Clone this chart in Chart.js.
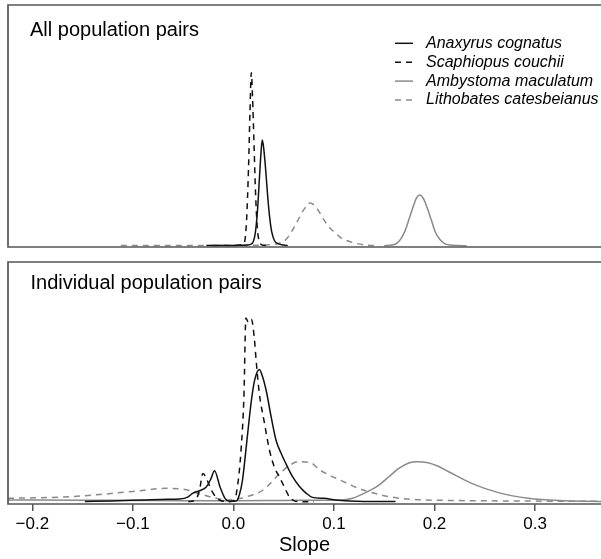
<!DOCTYPE html>
<html><head><meta charset="utf-8">
<script src="https://cdn.jsdelivr.net/npm/chart.js@4.4.1/dist/chart.umd.min.js"></script>
<style>
html,body{margin:0;padding:0;background:#fff;}
#wrap{position:relative;width:601px;height:559px;overflow:hidden;}
canvas{position:absolute;left:0;}
#c1{top:0;}
#c2{top:250px;}
</style></head><body>
<div id="wrap"><canvas id="c1" width="601" height="250"></canvas><canvas id="c2" width="601" height="309"></canvas></div>
<script>
// ---------- data ----------
const speciesNames = ['Anaxyrus cognatus', 'Scaphiopus couchii', 'Ambystoma maculatum', 'Lithobates catesbeianus'];
const panelTitles = ['All population pairs', 'Individual population pairs'];
const axisTitle = 'Slope';
const tickValues = [-0.2, -0.1, 0.0, 0.1, 0.2, 0.3];
const xMin = -0.2242, xMax = 0.3656;

// Top panel: "All population pairs"
const topAnaxX = [-0.027, -0.010, 0.005, 0.013, 0.017, 0.020, 0.022, 0.024, 0.026, 0.0275, 0.0287, 0.030, 0.032, 0.034, 0.036, 0.038, 0.041, 0.045, 0.050, 0.054];
const topAnaxY = [0.1, 0.1, 0.2, 0.3, 0.6, 2, 6, 15, 29, 39, 43.9, 41, 32, 21, 12, 6, 2, 0.8, 0.3, 0.1];
const topScaphX = [-0.02, 0.000, 0.008, 0.011, 0.013, 0.015, 0.0165, 0.0178, 0.019, 0.0205, 0.022, 0.0235, 0.025, 0.027, 0.030, 0.036];
const topScaphY = [0.1, 0.1, 0.3, 1.5, 10, 32, 56, 71.9, 62, 42, 22, 9, 3, 0.8, 0.2, 0.1];
const topAmbyX = [0.150, 0.158, 0.163, 0.167, 0.171, 0.175, 0.179, 0.182, 0.1853, 0.189, 0.193, 0.197, 0.201, 0.205, 0.210, 0.216, 0.224, 0.232];
const topAmbyY = [0.05, 0.3, 1.2, 3.2, 6.5, 11.5, 16.5, 19.8, 21.1, 19.6, 15.5, 10.5, 5.5, 2.8, 0.9, 0.3, 0.1, 0.05];
const topLithX = [-0.112, -0.08, -0.05, -0.02, 0.0, 0.02, 0.035, 0.045, 0.052, 0.058, 0.064, 0.070, 0.0765, 0.083, 0.089, 0.095, 0.101, 0.107, 0.114, 0.122, 0.132, 0.145];
const topLithY = [0.1, 0.1, 0.1, 0.1, 0.15, 0.2, 0.4, 1, 2.5, 6, 10.5, 15, 17.8, 15.5, 11.5, 7.8, 5.5, 3.3, 2.0, 1.0, 0.3, 0.1];

// Bottom panel: "Individual population pairs"
const botAnaxX = [-0.1477, -0.12, -0.09, -0.065, -0.0535, -0.045, -0.0406, -0.0337, -0.0268, -0.0225, -0.0188, -0.0134, -0.0084, -0.004, 0.001, 0.003, 0.006, 0.009, 0.012, 0.015, 0.018, 0.021, 0.0258, 0.029, 0.033, 0.0374, 0.0423, 0.0473, 0.0522, 0.0588, 0.0655, 0.0725, 0.0786, 0.090, 0.1018, 0.115, 0.13, 0.1612];
const botAnaxY = [0.1, 0.3, 0.7, 1.0, 1.1, 2, 3.5, 4.6, 6.3, 9.5, 13.0, 6.3, 1.4, 0.2, 0.2, 0.3, 3, 9, 20, 32, 43, 51, 55.7, 52.6, 46, 36, 26, 20.5, 16, 10.5, 6.5, 3.5, 1.8, 1.4, 0.7, 0.3, 0.1, 0.05];
const botScaphX = [-0.045, -0.038, -0.0337, -0.0304, -0.0255, -0.0221, -0.0139, -0.004, 0.001, 0.004, 0.0076, 0.0105, 0.0124, 0.0150, 0.0179, 0.0210, 0.0225, 0.0258, 0.0307, 0.0357, 0.0406, 0.0456, 0.0505, 0.0555, 0.0605, 0.065, 0.08];
const botScaphY = [0, 0.6, 4.9, 11.9, 8.4, 4.9, 0.7, 0, 0.7, 6.3, 21.7, 45, 77.4, 75.5, 76.8, 68, 60, 45.5, 33.5, 22, 14.7, 10.5, 6.3, 2.1, 0.3, 0, 0];
const botAmbyX = [-0.2242, -0.15, -0.1, -0.05, 0.0, 0.05, 0.09, 0.1085, 0.1185, 0.1298, 0.1447, 0.1546, 0.1645, 0.1744, 0.1824, 0.1923, 0.2032, 0.2141, 0.2369, 0.2636, 0.2934, 0.33, 0.3656];
const botAmbyY = [0.7, 0.6, 0.5, 0.4, 0.4, 0.5, 0.6, 0.7, 1.4, 3.5, 7, 10.5, 14, 16.3, 16.8, 16.5, 15, 12.6, 7.7, 3.8, 1.4, 0.4, 0.1];
const botLithX = [-0.2242, -0.172, -0.133, -0.100, -0.066, -0.048, -0.033, -0.018, -0.0064, 0.0066, 0.0135, 0.0295, 0.0464, 0.0563, 0.0643, 0.0762, 0.0861, 0.106, 0.129, 0.1657, 0.2155, 0.2652, 0.3656];
const botLithY = [1.4, 1.9, 3.0, 4.3, 5.6, 5.1, 3.2, 1.5, 0.7, 1.3, 2.1, 4.9, 12, 15.4, 16.8, 16.5, 13.3, 9.1, 4.9, 1.4, 0.5, 0.3, 0.1];

// ---------- styles ----------
const FONT = "'Liberation Sans', Arial, Helvetica, sans-serif";
const BLACK = '#111111', GREY = '#8a8a8a', FRAME = '#555555';
const DASH = [6, 5];
const seriesStyle = [
  {color: BLACK, dash: []},
  {color: BLACK, dash: DASH},
  {color: GREY, dash: []},
  {color: GREY, dash: DASH}
];

function pts(xs, ys){ return xs.map((x, i) => ({x: x, y: ys[i]})); }
function makeDatasets(list){
  return list.map((d, i) => ({
    label: speciesNames[i],
    data: pts(d[0], d[1]),
    borderColor: seriesStyle[i].color,
    borderDash: seriesStyle[i].dash,
    borderWidth: 1.5,
    pointRadius: 0,
    fill: false,
    cubicInterpolationMode: 'monotone'
  }));
}

const framePlugin = {
  id: 'frame',
  afterDatasetsDraw(chart){
    const {ctx, chartArea: a} = chart;
    ctx.save();
    ctx.strokeStyle = FRAME; ctx.lineWidth = 1.7;
    ctx.beginPath();
    ctx.moveTo(a.right + 10, a.top);
    ctx.lineTo(a.left, a.top);
    ctx.lineTo(a.left, a.bottom);
    ctx.lineTo(a.right + 10, a.bottom);
    ctx.stroke();
    ctx.restore();
  }
};
const panelLabelPlugin = {
  id: 'panelLabel',
  afterDraw(chart, args, opts){
    if (!opts || !opts.text) return;
    const ctx = chart.ctx;
    ctx.save();
    ctx.fillStyle = '#000';
    ctx.font = '20px ' + FONT;
    ctx.textBaseline = 'alphabetic';
    ctx.textAlign = 'left';
    ctx.fillText(opts.text, opts.x, opts.y);
    ctx.restore();
  }
};
const innerLegendPlugin = {
  id: 'innerLegend',
  afterDraw(chart, args, opts){
    if (!opts || !opts.show) return;
    const ctx = chart.ctx;
    ctx.save();
    chart.data.datasets.forEach((ds, i) => {
      const y = opts.y0 + i * opts.step;
      ctx.strokeStyle = ds.borderColor;
      ctx.lineWidth = 1.5;
      ctx.setLineDash(ds.borderDash || []);
      ctx.beginPath();
      ctx.moveTo(opts.x0, y); ctx.lineTo(opts.x1, y);
      ctx.stroke();
      ctx.setLineDash([]);
      ctx.fillStyle = '#000';
      ctx.font = 'italic 16px ' + FONT;
      ctx.textBaseline = 'middle';
      ctx.fillText(ds.label, opts.tx, y);
    });
    ctx.restore();
  }
};

function fmt(v){
  const s = Math.abs(v).toFixed(1);
  return v < -1e-9 ? '\u2212' + s : s;
}

const common = {
  responsive: false,
  animation: false,
  devicePixelRatio: 1,
  events: []
};

// top chart
new Chart(document.getElementById('c1'), {
  type: 'line',
  data: { datasets: makeDatasets([[topAnaxX, topAnaxY], [topScaphX, topScaphY], [topAmbyX, topAmbyY], [topLithX, topLithY]]) },
  options: Object.assign({}, common, {
    layout: { padding: { left: 8, top: 5, right: 0, bottom: 3 } },
    scales: {
      x: { type: 'linear', min: xMin, max: xMax, display: false },
      y: { type: 'linear', min: -0.5, max: 100, display: false }
    },
    plugins: {
      legend: { display: false }, tooltip: { enabled: false },
      panelLabel: { text: panelTitles[0], x: 30, y: 35.5 },
      innerLegend: { show: true, x0: 395, x1: 413, tx: 426, y0: 43.3, step: 18.9 }
    }
  }),
  plugins: [framePlugin, panelLabelPlugin, innerLegendPlugin]
});

// bottom chart
new Chart(document.getElementById('c2'), {
  type: 'line',
  data: { datasets: makeDatasets([[botAnaxX, botAnaxY], [botScaphX, botScaphY], [botAmbyX, botAmbyY], [botLithX, botLithY]]) },
  options: Object.assign({}, common, {
    layout: { padding: { left: 8, top: 12, right: 0, bottom: 0 } },
    scales: {
      x: {
        type: 'linear', min: xMin, max: xMax,
        afterBuildTicks: s => { s.ticks = tickValues.map(v => ({value: v})); },
        afterFit: s => { s.height = 55; },
        grid: { display: true, drawOnChartArea: false, drawTicks: true, tickLength: 7, color: FRAME, lineWidth: 1.5 },
        border: { display: false },
        ticks: { color: '#000', font: { family: FONT, size: 17 }, padding: 3, maxRotation: 0, autoSkip: false, callback: v => fmt(v) },
        title: { display: true, text: axisTitle, color: '#000', font: { family: FONT, size: 20 }, padding: { top: 0, bottom: 2 } }
      },
      y: { type: 'linear', min: -1, max: 101, display: false }
    },
    plugins: {
      legend: { display: false }, tooltip: { enabled: false },
      panelLabel: { text: panelTitles[1], x: 30.5, y: 39.3 }
    }
  }),
  plugins: [framePlugin, panelLabelPlugin]
});
</script>
</body></html>
